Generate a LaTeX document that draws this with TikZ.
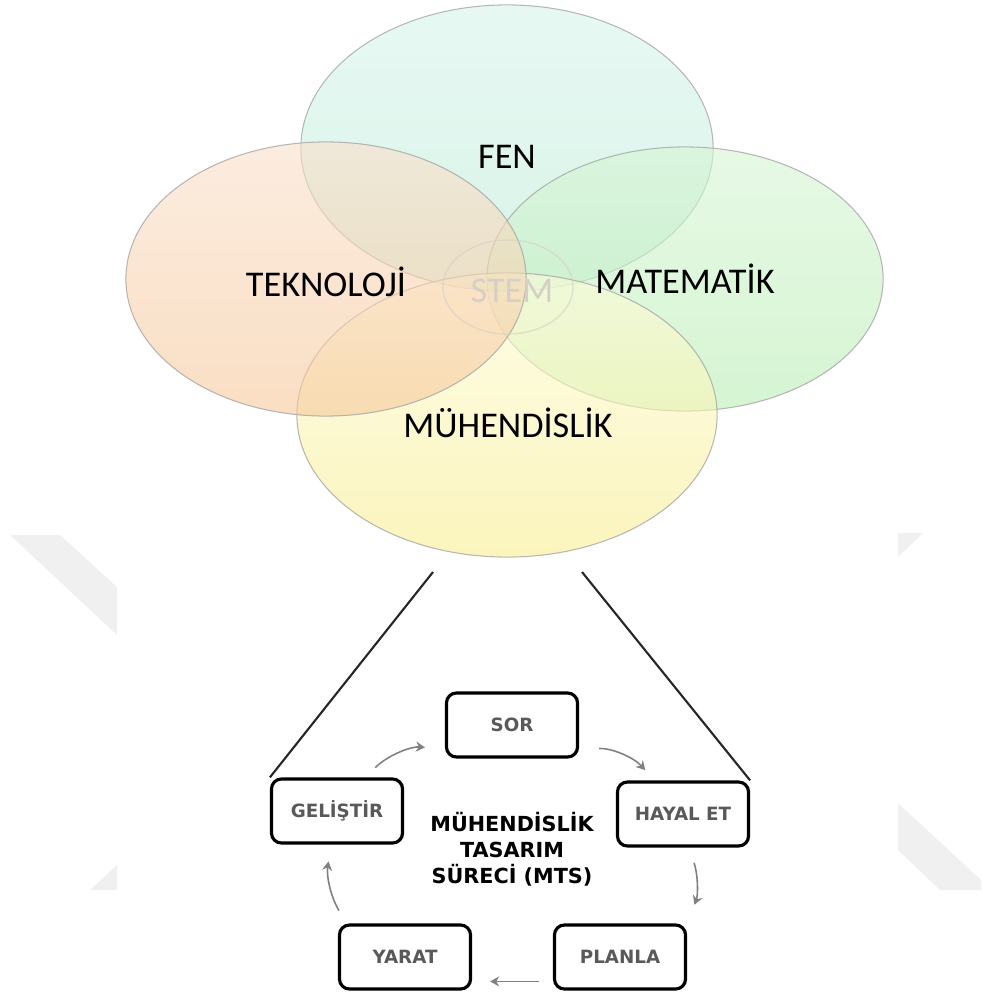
\documentclass[tikz,border=0pt]{standalone}
\usepackage{fontspec}
\setmainfont{Carlito}
\newfontfamily\boxfont{DejaVu Sans}
\usetikzlibrary{shapes.geometric,arrows.meta}
\definecolor{fenTop}{RGB}{215,244,235}
\definecolor{fenBot}{RGB}{190,236,216}
\definecolor{tekTop}{RGB}{250,224,203}
\definecolor{tekBot}{RGB}{246,200,155}
\definecolor{matTop}{RGB}{215,245,212}
\definecolor{matBot}{RGB}{185,238,180}
\definecolor{muhTop}{RGB}{253,252,217}
\definecolor{muhBot}{RGB}{248,237,143}
\definecolor{stemGray}{RGB}{214,207,199}
\definecolor{mark}{RGB}{240,240,240}
\tikzset{
        oval/.style={ellipse, draw=black!35, line width=0.3pt, inner sep=0pt, fill opacity=0.6, draw opacity=0.8},
        fen/.style={oval, top color=fenTop, bottom color=fenBot, minimum width=4.12cm, minimum height=2.86cm},
        tek/.style={oval, top color=tekTop, bottom color=tekBot, minimum width=4.0cm, minimum height=2.74cm},
        mat/.style={oval, top color=matTop, bottom color=matBot, minimum width=3.96cm, minimum height=2.64cm},
        muh/.style={oval, top color=muhTop, bottom color=muhBot, minimum width=4.2cm, minimum height=2.84cm},
        stemoval/.style={ellipse, draw=stemGray, draw opacity=0.6, line width=0.4pt, inner sep=0pt, minimum width=1.3cm, minimum height=0.94cm},
        lbl/.style={font=\fontsize{10.3}{12}\selectfont, text=black},
        stemlbl/.style={font=\fontsize{10.3}{12}\selectfont, text=stemGray},
        stepbox/.style={draw=black, line width=0.9pt, rounded corners=1mm, minimum width=1.31cm, minimum height=0.64cm, inner sep=0pt,
          font=\boxfont\bfseries\fontsize{5.2}{6}\selectfont, text=black!65},
        mts/.style={align=center, font=\boxfont\bfseries\fontsize{5.9}{7.4}\selectfont},
        cyc/.style={draw=black!50, line width=0.45pt, -{Stealth[length=0.9mm, width=1mm]}},
        zoomline/.style={draw=black!85, line width=0.6pt},
        wmark/.style={fill=mark, draw=none}
          }
\begin{document}
\begin{tikzpicture}
        [x=0.01cm, y=-0.01cm,
        ]
        \useasboundingbox (0,0) rectangle (981,994);
        % watermark pieces
        \fill[wmark] (10,535) -- (60,535) -- (117,587) -- (117,635) -- cycle;
        \fill[wmark] (90,890) -- (117,865) -- (117,890) -- cycle;
        \fill[wmark] (898,533) -- (923,533) -- (898,557) -- cycle;
        \fill[wmark] (898,803) -- (981,880) -- (981,890) -- (940,890) -- (898,850) -- cycle;
        % STEM ovals
        \node[fen] (fenE) at (507,148) {};
        \node[mat] (matE) at (685,279) {};
        \node[muh] (muhE) at (507,415) {};
        \node[tek] (tekE) at (326,279) {};
        \node[stemoval] (stemE) at (508,287) {};
        \node[stemlbl] (stem) at (512,291) {STEM};
        \node[lbl] (fen) at (507,157) {FEN};
        \node[lbl] (tek) at (326,282) {TEKNOLOJİ};
        \node[lbl] (mat) at (685,279) {MATEMATİK};
        \node[lbl] (muh) at (508,423) {MÜHENDİSLİK};
        % design cycle
        \node[stepbox] (sor) at (512,725) {SOR};
        \node[stepbox] (gelistir) at (337,811) {GELİŞTİR};
        \node[stepbox] (hayal) at (683,814) {HAYAL ET};
        \node[stepbox] (yarat) at (405,957) {YARAT};
        \node[stepbox] (planla) at (620,957) {PLANLA};
        \node[mts] (mtsText) at (512,849) {MÜHENDİSLİK\\TASARIM\\SÜRECİ (MTS)};
        \coordinate (lcut) at (433,572);
        \coordinate (rcut) at (582,572);
        \draw[zoomline] (lcut) -- (gelistir.north west);
        \draw[zoomline] (rcut) -- (hayal.north east);
        \draw[cyc, shorten <=0.14cm, shorten >=0.2cm] (gelistir.50) to[bend left=25] (sor.200);
        \draw[cyc, shorten <=0.2cm, shorten >=0.14cm] (sor.340) to[bend left=25] (hayal.130);
        \draw[cyc, shorten <=0.16cm, shorten >=0.2cm] (hayal.280) to[bend left=20] (planla.north east);
        \draw[cyc, shorten <=0.14cm, shorten >=0.18cm] (planla.200) -- (yarat.340);
        \draw[cyc, shorten <=0.15cm, shorten >=0.17cm] (yarat.150) to[bend left=20] (gelistir.260);
      \end{tikzpicture}
\end{document}
